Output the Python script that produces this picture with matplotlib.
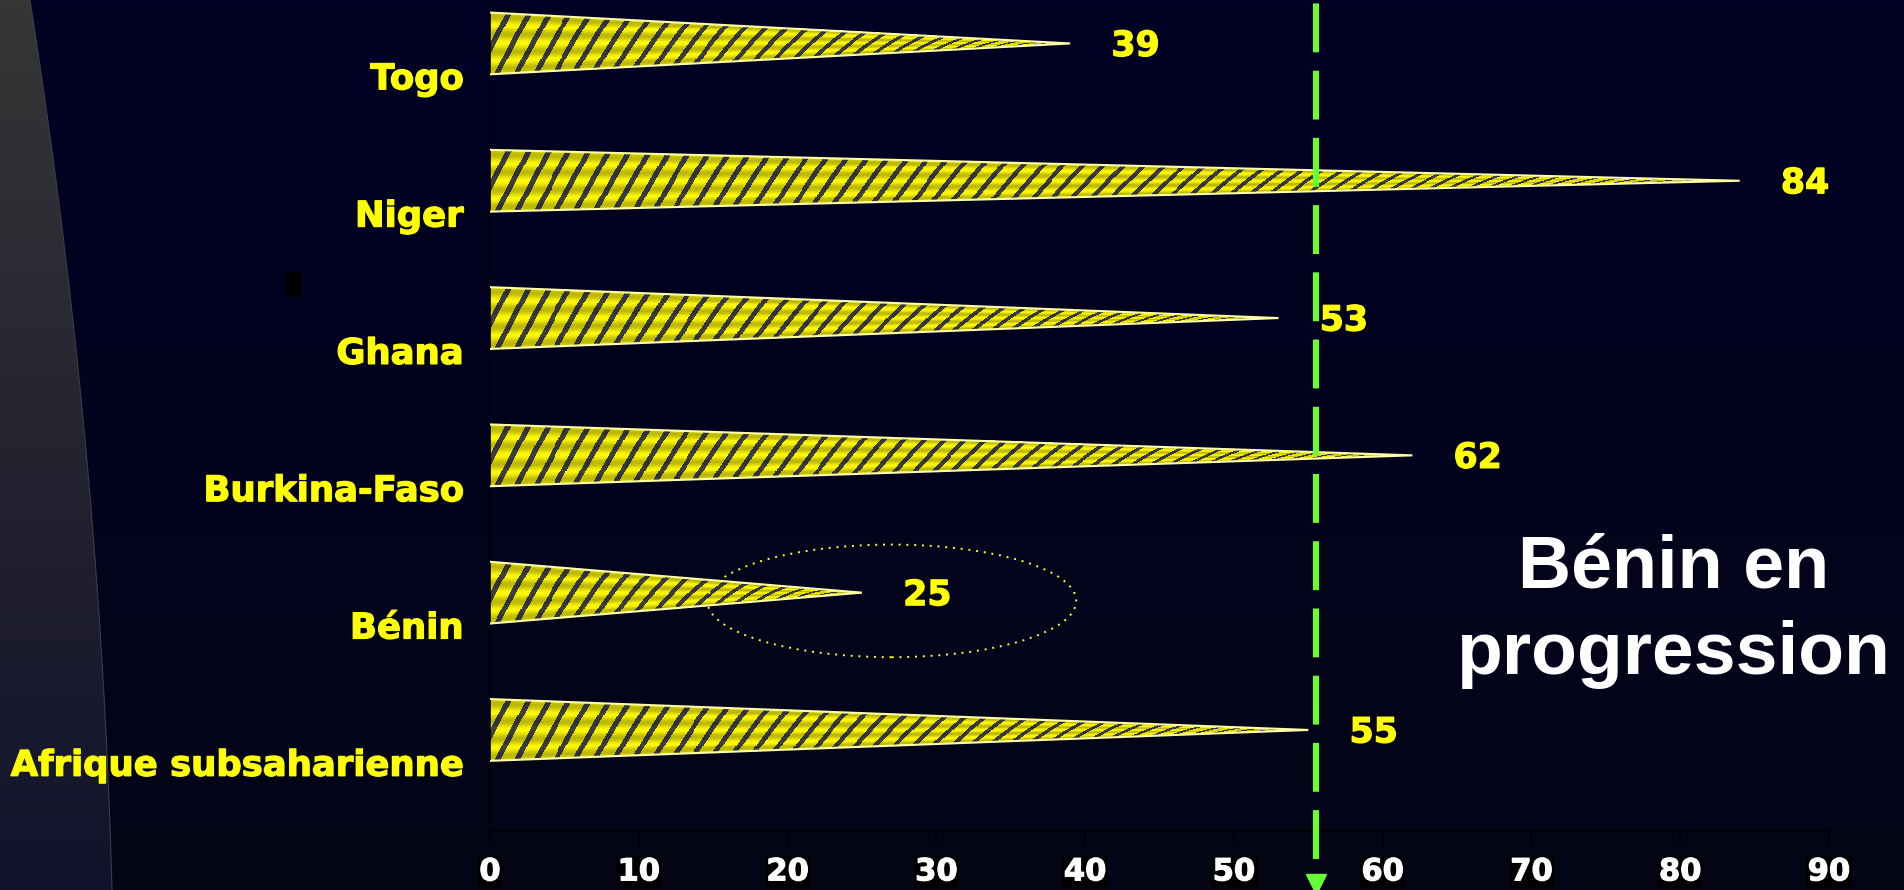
import numpy as np
import matplotlib
matplotlib.use("Agg")
import matplotlib.pyplot as plt
import matplotlib.patheffects as pe
from matplotlib.patches import Polygon, Ellipse, Rectangle
from matplotlib.transforms import blended_transform_factory

plt.rcParams["font.family"] = "DejaVu Sans"

# share (%) per country, drawn bottom to top
countries = ["Afrique subsaharienne", "Bénin", "Burkina-Faso", "Ghana", "Niger", "Togo"]
values = [55, 25, 62, 53, 84, 39]
highlight = "Bénin"
ssa_line = 55.5
xticks = list(range(0, 100, 10))
caption = ["Bénin en", "progression"]

W, H = 1904, 890
YELLOW = "#FFFF00"
GREEN = "#66FF33"

fig = plt.figure(figsize=(W / 100, H / 100), dpi=100)

# ---- backdrop: navy gradient with the grey swoosh on the left
bg = fig.add_axes([0, 0, 1, 1], zorder=-10)
bg.set_xlim(0, W)
bg.set_ylim(H, 0)
bg.axis("off")
grad = np.linspace(0, 1, 256)[:, None, None]
top_c = np.array([0x00, 0x00, 0x24]) / 255
bot_c = np.array([0x05, 0x05, 0x17]) / 255
bg.imshow(top_c + (bot_c - top_c) * grad * np.ones((1, 2, 3)),
          extent=(0, W, H, 0), aspect="auto", zorder=0)

yy = np.linspace(0, 1, 60)
edge_x = 30 + 140 * yy - 58 * yy ** 2
swoosh = np.column_stack([np.r_[0, edge_x, 0], np.r_[0, yy * H, H]])
swoosh_patch = Polygon(swoosh, closed=True, fc="none", ec="none")
bg.add_patch(swoosh_patch)
g_top = np.array([0x36, 0x36, 0x36]) / 255
g_bot = np.array([0x12, 0x12, 0x2C]) / 255
im = bg.imshow(g_top + (g_bot - g_top) * grad * np.ones((1, 2, 3)),
               extent=(0, W, H, 0), aspect="auto", zorder=1)
im.set_clip_path(swoosh_patch)
bg.plot(edge_x, yy * H, color="#3C3C48", lw=0.8, zorder=2)
bg.add_patch(Rectangle((286, 272), 16, 25, fc="black", ec="none", zorder=3))

# ---- main chart
ax = fig.add_axes([490 / W, 59 / H, 1339 / W, 831 / H])
ax.set_facecolor("none")
ypos = np.arange(len(countries))
bar_h = 0.45
heavy = [pe.withStroke(linewidth=0.9, foreground=YELLOW)]


def cone_texture(value, ny=64, px_per_unit=15):
    nx = max(int(value * px_per_unit), 2)
    X, T = np.meshgrid(np.arange(nx) + 0.5, (np.arange(ny) + 0.5) / ny * 2 - 1)
    half = np.clip(1 - X / nx, 1e-3, None)
    t = T / half
    inside = np.abs(t) <= 1
    shade = 0.87 + 0.13 * np.cos(np.pi * 3.5 * t)
    stripe = np.mod(X - 16 * t, 20) < 6
    rgba = np.zeros((ny, nx, 4))
    rgba[..., 0] = np.where(stripe, 0.25, 1.0) * shade
    rgba[..., 1] = np.where(stripe, 0.25, 0.98) * shade
    rgba[..., 2] = np.where(stripe, 0.25, 0.0)
    rgba[..., 3] = inside
    return rgba


for y, v, name in zip(ypos, values, countries):
    ax.imshow(cone_texture(v), extent=(0, v, y - bar_h / 2, y + bar_h / 2),
              origin="lower", aspect="auto", interpolation="nearest", zorder=2)
    ax.plot([0, v, 0], [y + bar_h / 2, y, y - bar_h / 2],
            color="#FFFFA8", lw=1.5, zorder=3, solid_joinstyle="miter")
    ax.annotate(str(v), xy=(v, y), xytext=(47, -9), textcoords="offset points",
                ha="center", va="baseline", color=YELLOW, fontsize=25,
                fontweight="bold", path_effects=heavy)
    ax.annotate(name, xy=(0, y), xytext=(-19, -33), textcoords="offset points",
                ha="right", va="baseline", color=YELLOW, fontsize=25.5,
                fontweight="bold", annotation_clip=False, path_effects=heavy)
    if name == highlight:
        ax.add_patch(Ellipse((v + 2, y - 0.06), 24.8, 0.82, fill=False,
                             ec="#FFFF33", lw=1.4, ls=(0, (1, 3)), zorder=4))

# reference line with the arrow tip below the axis
trans = blended_transform_factory(ax.transData, ax.transAxes)
ref, = ax.plot([ssa_line, ssa_line], [-28 / 831, 1], color=GREEN, lw=4.4,
               transform=trans, clip_on=False, zorder=5, solid_capstyle="butt")
ref.set_dashes((8, 3))
ref.set_dash_capstyle("butt")
ax.plot([ssa_line], [-53 / 831], marker="v", ms=14, color=GREEN, mec=GREEN,
        transform=trans, clip_on=False, zorder=5)

ax.set_xlim(0, 90)
ax.set_ylim(-0.736, -0.736 + 831 / 137.3)
ax.set_xticks(xticks)
ax.set_yticks([])
ax.tick_params(axis="x", length=11, width=1.1, color="black", pad=8,
               labelcolor="white", labelsize=22)
for lbl in ax.get_xticklabels():
    lbl.set_fontweight("bold")
    lbl.set_path_effects([pe.withStroke(linewidth=0.8, foreground="white")])
    lbl.set_bbox(dict(boxstyle="square,pad=0.05", fc="black", ec="none"))
for side in ("top", "right"):
    ax.spines[side].set_visible(False)
for side in ("left", "bottom"):
    ax.spines[side].set_color("black")
    ax.spines[side].set_linewidth(1.2)

# caption on the right
fig.text(1674 / W, 1 - 588 / H, caption[0], ha="center", va="baseline",
         color="white", fontsize=53, fontweight="bold", family="Liberation Sans")
fig.text(1673 / W, 1 - 674 / H, caption[1], ha="center", va="baseline",
         color="white", fontsize=54, fontweight="bold", family="Liberation Sans")

fig.savefig("out.png", dpi=100, facecolor=fig.get_facecolor())
